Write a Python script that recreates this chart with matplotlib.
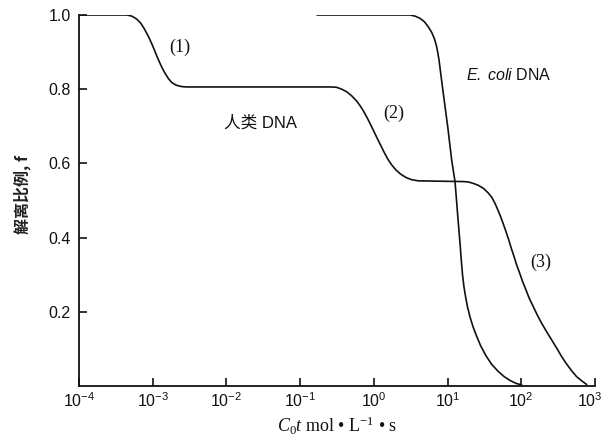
import numpy as np
import matplotlib
matplotlib.use("Agg")
import matplotlib.pyplot as plt
from matplotlib.transforms import ScaledTranslation

plt.rcParams['font.family'] = ['Liberation Sans', 'Noto Sans CJK SC', 'DejaVu Sans']
plt.rcParams['mathtext.fontset'] = 'custom'
plt.rcParams['mathtext.rm'] = 'Liberation Serif'
plt.rcParams['mathtext.it'] = 'Liberation Serif:italic'
plt.rcParams['mathtext.sf'] = 'Liberation Sans:italic'

# Human DNA renaturation curve: log10(C0t) and fraction single-stranded f
human_log_c0t = [-4.0, -3.35, -3.285, -3.217, -3.163, -3.118, -3.082, -3.046, -3.010,
                 -2.978, -2.946, -2.911, -2.874, -2.833, -2.789, -2.742, -2.684,
                 -2.607, -2.539, -0.572, -0.504, -0.436, -0.368, -0.300, -0.233,
                 -0.178, -0.129, -0.083, -0.038, 0.006, 0.052, 0.097, 0.142, 0.188,
                 0.242, 0.301, 0.364, 0.436, 0.514, 0.603, 0.898, 1.214, 1.282,
                 1.350, 1.417, 1.485, 1.544, 1.599, 1.644, 1.684, 1.721, 1.756,
                 1.793, 1.830, 1.865, 1.902, 1.938, 1.979, 2.019, 2.064, 2.109,
                 2.163, 2.218, 2.277, 2.345, 2.413, 2.481, 2.549, 2.616, 2.684,
                 2.752, 2.820, 2.888]
human_f = [1.0, 1.0, 0.997, 0.989, 0.978, 0.964, 0.951, 0.937, 0.921,
           0.906, 0.890, 0.874, 0.858, 0.843, 0.829, 0.818, 0.811,
           0.807, 0.806, 0.806, 0.805, 0.800, 0.793, 0.782, 0.768,
           0.753, 0.737, 0.720, 0.702, 0.684, 0.665, 0.647, 0.629, 0.612,
           0.596, 0.582, 0.571, 0.562, 0.556, 0.553, 0.552, 0.551, 0.550,
           0.546, 0.541, 0.533, 0.522, 0.509, 0.492, 0.474, 0.456, 0.437,
           0.416, 0.394, 0.371, 0.349, 0.326, 0.304, 0.281, 0.259, 0.236,
           0.214, 0.191, 0.169, 0.146, 0.124, 0.102, 0.079, 0.059, 0.041,
           0.025, 0.014, 0.004]

# E. coli DNA renaturation curve
ecoli_log_c0t = [-0.771, 0.491, 0.558, 0.626, 0.685, 0.739, 0.785, 0.820, 0.848,
                 0.868, 0.884, 0.912, 0.942, 0.972, 1.002, 1.029, 1.056, 1.080,
                 1.101, 1.117, 1.132, 1.150, 1.169, 1.186, 1.203, 1.222, 1.245,
                 1.272, 1.305, 1.345, 1.395, 1.450, 1.520, 1.600, 1.689, 1.770,
                 1.847, 1.930, 2.006]
ecoli_f = [1.0, 1.0, 0.997, 0.991, 0.982, 0.968, 0.953, 0.937, 0.918,
           0.898, 0.879, 0.835, 0.789, 0.744, 0.699, 0.654, 0.609, 0.578,
           0.551, 0.512, 0.474, 0.430, 0.385, 0.340, 0.300, 0.268, 0.240,
           0.212, 0.186, 0.160, 0.134, 0.108, 0.082, 0.058, 0.039, 0.025,
           0.015, 0.007, 0.003]

y_ticks = [0.2, 0.4, 0.6, 0.8, 1.0]
y_tick_labels = ['0.2', '0.4', '0.6', '0.8', '1.0']
x_ticks = [1e-4, 1e-3, 1e-2, 1e-1, 1e0, 1e1, 1e2, 1e3]

fig = plt.figure(figsize=(6.06, 4.46), dpi=100)
ax = fig.add_axes([0.1304, 0.1345, 0.8514, 0.8319])

ink = '#111111'
ax.plot(np.power(10.0, human_log_c0t), human_f, color=ink, lw=1.2,
        solid_capstyle='round', solid_joinstyle='round')
ax.plot(np.power(10.0, ecoli_log_c0t), ecoli_f, color=ink, lw=1.2,
        solid_capstyle='round', solid_joinstyle='round')

ax.set_xscale('log')
ax.set_xlim(1e-4, 1e3)
ax.set_ylim(0, 1.0)
ax.set_xticks(x_ticks)
ax.xaxis.set_minor_locator(matplotlib.ticker.NullLocator())
ax.set_yticks(y_ticks)
ax.set_yticklabels(y_tick_labels)

for side in ('top', 'right'):
    ax.spines[side].set_visible(False)
for side in ('left', 'bottom'):
    ax.spines[side].set_linewidth(1.3)
    ax.spines[side].set_color(ink)

ax.tick_params(axis='both', direction='in', length=6, width=1.2, color=ink,
               labelsize=11.5, labelcolor=ink)
ax.tick_params(axis='y', pad=6)
ax.tick_params(axis='x', pad=4)

# keep the last decade label inside the canvas
last_label = ax.get_xticklabels()[-1]
last_label.set_transform(last_label.get_transform()
                         + ScaledTranslation(-4 / 72, 0, fig.dpi_scale_trans))

ax.set_xlabel(r"$\mathit{C}_{\mathdefault{0}}\mathit{t}$ mol • L$^{\mathdefault{-1}}$ • s",
              fontfamily='Liberation Serif', fontsize=13, color=ink, labelpad=3)
fig.text(22 / 606, 1 - 195 / 446, "解离比例, f", rotation=90, ha='center', va='center',
         fontfamily=['Noto Sans CJK SC', 'DejaVu Sans'], fontweight='bold',
         fontsize=11.5, color='#222222')

serif = 'Liberation Serif'
ax.text(10 ** -2.63, 0.914, "(1)", ha='center', va='center', fontfamily=serif,
        fontsize=13, color=ink)
ax.text(10 ** 0.267, 0.736, "(2)", ha='center', va='center', fontfamily=serif,
        fontsize=13, color=ink)
ax.text(10 ** 2.27, 0.332, "(3)", ha='center', va='center', fontfamily=serif,
        fontsize=13, color=ink)
ax.text(10 ** -1.544, 0.709, "人类 DNA", ha='center', va='center',
        fontfamily=['Liberation Sans', 'Noto Sans CJK SC'], fontsize=12, color=ink)
ax.text(10 ** 1.834, 0.838, r"$\mathsf{E.\ coli}$ DNA", ha='center', va='center',
        fontsize=11.5, color=ink)

fig.savefig("out.png", dpi=100, facecolor='white')
